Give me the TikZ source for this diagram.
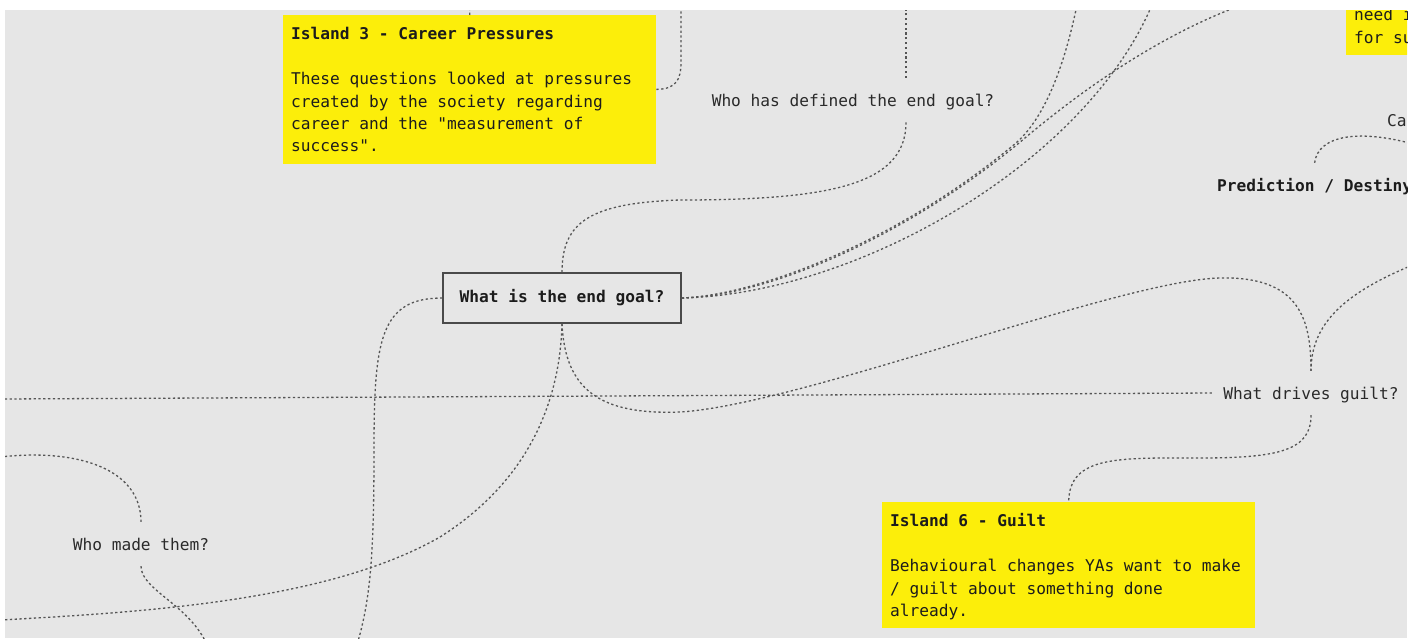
\documentclass[tikz,border=0pt]{standalone}
\usepackage{fontspec}
\setmonofont{DejaVu Sans Mono}
\usepackage{xcolor}
\usetikzlibrary{positioning,calc}

\definecolor{panelgray}{HTML}{E6E6E6}
\definecolor{stickyyellow}{HTML}{FCEE0A}
\definecolor{linkgray}{HTML}{555555}
\definecolor{boxgray}{HTML}{4A4A4A}
\definecolor{inkdark}{HTML}{1C1C1C}
\definecolor{inkgray}{HTML}{2A2A2A}

\newcommand{\topstrut}{\rule{0pt}{17.7pt}}
\newcommand{\botstrut}{\rule[-4.7pt]{0pt}{4.7pt}}

\begin{document}
\begin{tikzpicture}[
    x=1pt, y=-1pt,
    every node/.style={font=\ttfamily\fontsize{16.18}{22.4}\selectfont, text=inkdark},
    island/.style={rectangle, fill=stickyyellow, anchor=north west, text width=357pt, align=left, inner xsep=8pt, inner ysep=7pt,
        execute at begin node={\spaceskip=0.602em\xspaceskip=0.602em\relax}},
    question/.style={inner sep=0pt, inner xsep=10pt, minimum height=44pt, text=inkgray, text height=13pt, text depth=1pt},
    strong/.style={font=\ttfamily\bfseries\fontsize{16.18}{22.4}\selectfont, text=inkdark},
    goalbox/.style={rectangle, draw=boxgray, line width=1.4pt, fill=panelgray, minimum width=238pt, minimum height=50pt, strong},
    link/.style={draw=linkgray, line width=1.3pt, dash pattern=on 2.3pt off 2.5pt}
]
    \useasboundingbox (0,0) rectangle (1415,638);
    \fill[white] (0,0) rectangle (1415,638);
    \fill[panelgray] (5,10) rectangle (1407,638);

    \begin{scope}
    \clip (5,10) rectangle (1407,638);

    % Islands
    \node [island] (island3) at (283,15) {\topstrut\textbf{Island 3 - Career Pressures}\\[22.4pt]These questions looked at pressures\\created by the society regarding\\career and the "measurement of\\success".\botstrut};
    \node [island] (island6) at (882,502) {\topstrut\textbf{Island 6 - Guilt}\\[22.4pt]Behavioural changes YAs want to make\\/ guilt about something done\\already.\botstrut};
    \node [island, anchor=south west] (islandtop) at (1346,55) {\topstrut need i\\for su\botstrut};

    % Questions
    \node [goalbox] (goal) at (562,298) {What is the end goal?};
    \node [question] (defined) at (853,100) {Who has defined the end goal?};
    \node [question] (guilt) at (1311,393) {What drives guilt?};
    \node [question] (madethem) at (141,544) {Who made them?};
    \node [question, anchor=west] (ca) at (1377,120) {Ca};
    \node [question, strong, anchor=west] (destiny) at (1207,185) {Prediction / Destiny};

    % Free ends
    \coordinate (top3) at (470,4);
    \coordinate (edgeA) at (681,4);
    \coordinate (edgeB) at (906,4);
    \coordinate (fan1) at (1078,0);
    \coordinate (fan2) at (1154,0);
    \coordinate (fan3) at (1250,2);
    \coordinate (edgeG) at (1420,262);
    \coordinate (edgeD) at (1420,146);
    \coordinate (leftA) at (0,399);
    \coordinate (leftB) at (0,620);
    \coordinate (leftC) at (0,457);
    \coordinate (bottomA) at (357,645);
    \coordinate (bottomB) at (207,645);

    % Connections
    \draw [link] (island3.north) -- (top3);
    \draw [link] (island3.east) .. controls (676,89) and (681,80) .. (681,62) -- (edgeA);
    \draw [link] ($(defined.north)+(53,0)$) -- (edgeB);
    \draw [link] (goal.north) .. controls (562,222) and (590,203) .. (680,200) .. controls (830,200) and (906,185) .. ($(defined.south)+(53,0)$);
    \draw [link] (goal.east) .. controls (760,295) and (900,240) .. (1016,143) .. controls (1050,113) and (1068,50) .. (fan1);
    \draw [link] (goal.east) .. controls (860,294) and (1090,160) .. (fan2);
    \draw [link] (goal.east) .. controls (768,296) and (905,237) .. (1019,143) .. controls (1092,81) and (1170,30) .. (fan3);
    \draw [link] (leftA) -- (guilt.west);
    \draw [link] (goal.south) .. controls (565,390) and (600,415) .. (680,412) .. controls (800,405) and (1120,280) .. (1220,278) .. controls (1300,276) and (1311,320) .. (guilt.north);
    \draw [link] (guilt.north) .. controls (1311,320) and (1350,290) .. (edgeG);
    \draw [link] (guilt.south) .. controls (1311,450) and (1280,458) .. (1200,458) .. controls (1120,458) and (1069,455) .. (island6.north);
    \draw [link] (goal.south) .. controls (560,400) and (530,480) .. (440,537) .. controls (330,600) and (150,612) .. (leftB);
    \draw [link] (goal.west) .. controls (380,298) and (374,340) .. (374,450) .. controls (374,560) and (370,600) .. (bottomA);
    \draw [link] (leftC) .. controls (80,448) and (141,470) .. (madethem.north);
    \draw [link] (madethem.south) .. controls (141,590) and (190,605) .. (bottomB);
    \draw [link] (destiny.north) .. controls (1318,135) and (1360,128) .. (edgeD);
    \end{scope}
\end{tikzpicture}
\end{document}
